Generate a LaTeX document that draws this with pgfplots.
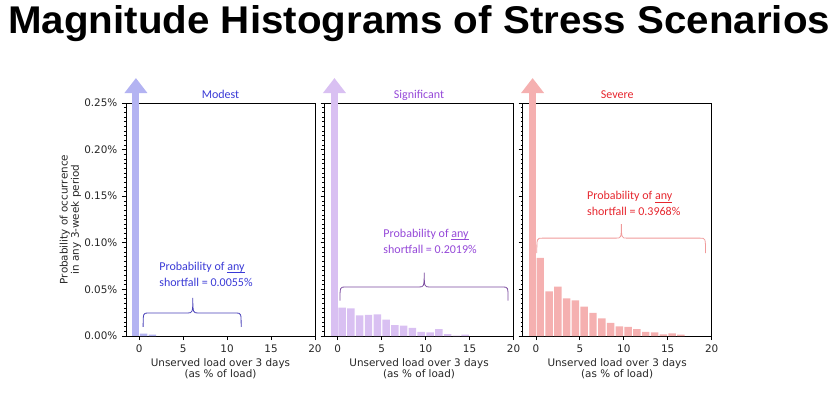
\documentclass[border=0pt]{standalone}
\usepackage{pgfplots}
\pgfplotsset{compat=1.18}
\usetikzlibrary{arrows.meta}
\usepackage{fontspec}
\setmainfont{DejaVu Sans}
\newfontfamily\annfont{Carlito}
\newfontfamily\titlefont{Liberation Sans}
\definecolor{modbar}{HTML}{B3B3F2}
\definecolor{modtxt}{HTML}{3A3AD6}
\definecolor{modbrace}{HTML}{4A42B8}
\definecolor{sigbar}{HTML}{D9C0F2}
\definecolor{sigtxt}{HTML}{9548D8}
\definecolor{sigbrace}{HTML}{7A4A9E}
\definecolor{sevbar}{HTML}{F5B0B0}
\definecolor{sevtxt}{HTML}{E6262E}
\definecolor{sevbrace}{HTML}{F09A9A}
\definecolor{tickgray}{HTML}{262626}
\pgfplotsset{
  panel/.style={
    scale only axis, width=141.75pt, height=174.75pt,
    anchor=south west,
    xmin=-1.5, xmax=20, ymin=0, ymax=0.25, clip=false,
    xtick={0,5,10,15,20},
    ytick={0,0.05,0.1,0.15,0.2,0.25},
    minor y tick num=9,
    tick align=outside, tick pos=left,
    major tick length=3pt, minor tick length=1.6pt,
    every tick/.style={black, line width=0.5pt},
    axis line style={black, line width=0.6pt},
    ticklabel style={font=\fontsize{7.8}{9}\selectfont, text=tickgray},
    /pgf/number format/assume math mode=true,
    label style={font=\fontsize{7.8}{8.4}\selectfont, text=tickgray},
    xlabel={Unserved load over 3 days\\(as \% of load)},
    xlabel style={align=center},
    xlabel shift=-2.5pt,
  },
}
\tikzset{
  ptitle/.style={font=\annfont\fontsize{9}{10}\selectfont, anchor=base, yshift=3.75pt},
  ann/.style={font=\annfont\fontsize{9}{10}\selectfont, anchor=west, inner sep=0pt},
}
\newcommand{\curlybrace}[7]{% color, xa, xb, xt, yb, ym, yt
  \draw[#1, line width=0.6pt]
    (axis cs:#2,#5) .. controls (axis cs:#2,#6) and (axis cs:#2,#6) .. (axis cs:#2+0.6,#6)
    -- (axis cs:#4-0.6,#6) .. controls (axis cs:#4-0.05,#6) and (axis cs:#4,#6) .. (axis cs:#4,#7)
    .. controls (axis cs:#4,#6) and (axis cs:#4+0.05,#6) .. (axis cs:#4+0.6,#6)
    -- (axis cs:#3-0.6,#6) .. controls (axis cs:#3,#6) and (axis cs:#3,#6) .. (axis cs:#3,#5);
}
\newcommand{\ul}[1]{\underline{\smash{#1}}}
\begin{document}
\begin{tikzpicture}
\path[use as bounding box] (0pt,0pt) rectangle (630pt,295.5pt);
\node[anchor=base west, inner sep=0pt] at (6pt,270.75pt)
  {\resizebox{616.5pt}{21pt}{\titlefont\bfseries Magnitude Histograms of Stress Scenarios}};

% ---------- Modest ----------
\begin{axis}[panel, at={(94.5pt,43.5pt)},
  yticklabels={0.00\%,0.05\%,0.10\%,0.15\%,0.20\%,0.25\%},
  ylabel={Probability of occurrence\\in any 3-week period},
  ylabel style={align=center}, ylabel shift=-4.5pt]
\addplot[modbar, line width=5.25pt, mark=none, -{Triangle[length=11.25pt,width=16.5pt]}]
  coordinates {(-0.37,0) (-0.37,0.2768)};
\addplot[ybar, bar width=0.85, fill=modbar, draw=none]
  coordinates {(0.5,0.0025) (1.5,0.0015)};
\node[ptitle, text=modtxt] at (rel axis cs:0.5,1) {Modest};
\node[ann, text=modtxt] at (axis cs:2.26,0.073) {Probability of \ul{any}};
\node[ann, text=modtxt] at (axis cs:2.26,0.058) {shortfall = 0.0055\%};
\curlybrace{modbrace}{0.45}{11.6}{6.1}{0.0097}{0.0247}{0.0408}
\end{axis}

% ---------- Significant ----------
\begin{axis}[panel, at={(243.4pt,43.5pt)}, yticklabels={}]
\addplot[sigbar, line width=5.25pt, mark=none, -{Triangle[length=11.25pt,width=16.5pt]}]
  coordinates {(-0.37,0) (-0.37,0.2768)};
\addplot[ybar, bar width=0.85, fill=sigbar, draw=none]
  coordinates {(0.5,0.0304) (1.5,0.0297) (2.5,0.0222) (3.5,0.0226) (4.5,0.0233)
   (5.5,0.0175) (6.5,0.0118) (7.5,0.0111) (8.5,0.0086) (9.5,0.0043)
   (10.5,0.0039) (11.5,0.0075) (12.5,0.0020) (13.5,0.0005) (14.5,0.0015)};
\node[ptitle, text=sigtxt] at (rel axis cs:0.5,1) {Significant};
\node[ann, text=sigtxt] at (axis cs:5.17,0.1084) {Probability of \ul{any}};
\node[ann, text=sigtxt] at (axis cs:5.17,0.0933) {shortfall = 0.2019\%};
\curlybrace{sigbrace}{0.26}{19.38}{9.84}{0.0379}{0.0526}{0.0679}
\end{axis}

% ---------- Severe ----------
\begin{axis}[panel, at={(392pt,43.5pt)}, yticklabels={}]
\addplot[sevbar, line width=5.25pt, mark=none, -{Triangle[length=11.25pt,width=16.5pt]}]
  coordinates {(-0.37,0) (-0.37,0.2768)};
\addplot[ybar, bar width=0.85, fill=sevbar, draw=none]
  coordinates {(0.5,0.0838) (1.5,0.0480) (2.5,0.0530) (3.5,0.0405) (4.5,0.0383)
   (5.5,0.0315) (6.5,0.0247) (7.5,0.0190) (8.5,0.0140) (9.5,0.0104)
   (10.5,0.0097) (11.5,0.0075) (12.5,0.0043) (13.5,0.0040) (14.5,0.0018)
   (15.5,0.0029) (16.5,0.0014)};
\node[ptitle, text=sevtxt] at (rel axis cs:0.5,1) {Severe};
\node[ann, text=sevtxt] at (axis cs:5.8,0.149) {Probability of \ul{any}};
\node[ann, text=sevtxt] at (axis cs:5.8,0.134) {shortfall = 0.3968\%};
\curlybrace{sevbrace}{0.11}{19.3}{9.73}{0.089}{0.105}{0.120}
\end{axis}
\end{tikzpicture}
\end{document}
